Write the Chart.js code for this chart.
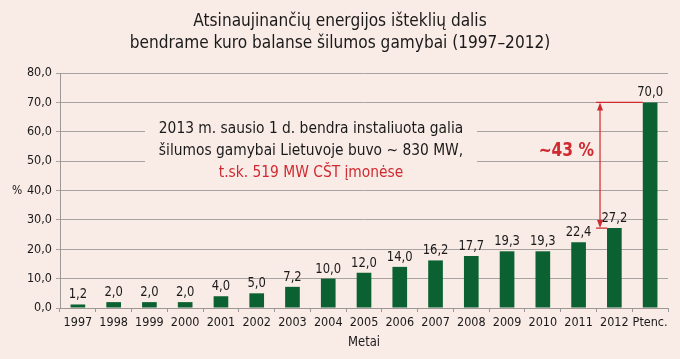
<!DOCTYPE html>
<html>
<head>
<meta charset="utf-8">
<script src="https://cdn.jsdelivr.net/npm/chart.js@4/dist/chart.umd.min.js"></script>
<style>
  html, body { margin: 0; padding: 0; background: #f9ebe6; }
  #wrap { width: 680px; height: 359px; position: relative; }
</style>
</head>
<body>
<div id="wrap"><canvas id="chart" width="680" height="359"></canvas></div>
<script>
// duomenys
const years = ["1997", "1998", "1999", "2000", "2001", "2002", "2003", "2004", "2005",
               "2006", "2007", "2008", "2009", "2010", "2011", "2012", "Ptenc."];
const shares = [1.2, 2.0, 2.0, 2.0, 4.0, 5.0, 7.2, 10.0, 12.0, 14.0, 16.2, 17.7, 19.3, 19.3, 22.4, 27.2, 70.0];
const yTicks = [0, 10, 20, 30, 40, 50, 60, 70, 80];
const titleLines = ["Atsinaujinančių energijos išteklių dalis",
                    "bendrame kuro balanse šilumos gamybai (1997–2012)"];
const noteLines = ["2013 m. sausio 1 d. bendra instaliuota galia",
                   "šilumos gamybai Lietuvoje buvo ~ 830 MW,",
                   "t.sk. 519 MW CŠT įmonėse"];
const gapLabel = "~43 %";

const FONT = '"DejaVu Sans Condensed", "Liberation Sans", Arial, sans-serif';
const BG = '#f9ebe6';
const RED = '#cf2a30';
const fmt = v => v.toFixed(1).replace('.', ',');

// siauresnis tekstas: suspaudžiame per skalę
function narrowText(ctx, text, x, y, sx) {
    ctx.save();
    ctx.translate(x, y);
    ctx.scale(sx, 1);
    ctx.fillText(text, 0, 0);
    ctx.restore();
}

// tekstai, etiketės ir rodyklė
const extras = {
    id: 'extras',
    beforeDatasetsDraw(chart) {
        const ctx = chart.ctx;
        // užrašo fonas uždengia tinklelio linijas
        ctx.save();
        ctx.fillStyle = BG;
        ctx.fillRect(145, 110, 332, 76);
        ctx.restore();
    },
    afterDraw(chart) {
        const ctx = chart.ctx;
        const x = chart.scales.x, y = chart.scales.y;
        const meta = chart.getDatasetMeta(0);
        ctx.save();
        ctx.textAlign = 'center';
        ctx.textBaseline = 'alphabetic';

        // pavadinimas
        ctx.fillStyle = '#1a1a1a';
        ctx.font = '18px ' + FONT;
        narrowText(ctx, titleLines[0], 340, 26, 0.95);
        narrowText(ctx, titleLines[1], 340, 48, 0.95);

        // reikšmės virš stulpelių
        ctx.font = '14px ' + FONT;
        meta.data.forEach((bar, i) => {
            narrowText(ctx, fmt(shares[i]), bar.x, bar.y - 6, 0.92);
        });

        // ašių pavadinimai
        narrowText(ctx, 'Metai', (x.left + x.right) / 2, 346, 0.92);
        ctx.font = '13px ' + FONT;
        ctx.textAlign = 'left';
        ctx.textBaseline = 'middle';
        narrowText(ctx, '%', 12, y.getPixelForValue(40), 0.92);

        // užrašas
        ctx.textAlign = 'center';
        ctx.textBaseline = 'alphabetic';
        ctx.font = '16px ' + FONT;
        ctx.fillStyle = '#1a1a1a';
        narrowText(ctx, noteLines[0], 311, 133, 0.96);
        narrowText(ctx, noteLines[1], 311, 155, 0.96);
        ctx.fillStyle = RED;
        narrowText(ctx, noteLines[2], 311, 177, 0.96);

        // rodyklė tarp 2012 ir perspektyvos
        const b12 = meta.data[15], bP = meta.data[16];
        const yTop = y.getPixelForValue(shares[16]);
        const yBot = y.getPixelForValue(shares[15]);
        const ax = b12.x - b12.width / 2 - 7;
        ctx.strokeStyle = RED;
        ctx.fillStyle = RED;
        ctx.lineWidth = 1.2;
        ctx.beginPath();
        ctx.moveTo(ax - 4, yTop); ctx.lineTo(bP.x - bP.width / 2, yTop);
        ctx.moveTo(ax - 4, yBot); ctx.lineTo(b12.x - b12.width / 2, yBot);
        ctx.moveTo(ax, yTop + 4); ctx.lineTo(ax, yBot - 4);
        ctx.stroke();
        ctx.beginPath();
        ctx.moveTo(ax, yTop); ctx.lineTo(ax - 3, yTop + 8); ctx.lineTo(ax + 3, yTop + 8); ctx.closePath();
        ctx.moveTo(ax, yBot); ctx.lineTo(ax - 3, yBot - 8); ctx.lineTo(ax + 3, yBot - 8); ctx.closePath();
        ctx.fill();

        ctx.font = 'bold 20px ' + FONT;
        ctx.textAlign = 'right';
        narrowText(ctx, gapLabel, ax - 6, 156, 0.86);
        ctx.restore();
    }
};

const ctx = document.getElementById('chart').getContext('2d');
const myChart = new Chart(ctx, {
    type: 'bar',
    data: {
        labels: years,
        datasets: [{
            data: shares,
            backgroundColor: '#0b6131',
            categoryPercentage: 1,
            barPercentage: 0.41
        }]
    },
    options: {
        responsive: false,
        animation: false,
        events: [],
        layout: { padding: { top: 73, right: 12, left: 0, bottom: 0 } },
        plugins: { legend: { display: false }, tooltip: { enabled: false } },
        scales: {
            x: {
                grid: { offset: true, drawOnChartArea: false, color: '#9c9694', tickLength: 4 },
                border: { color: '#9c9694' },
                ticks: { color: '#1a1a1a', font: { family: FONT, size: 12.5 }, padding: 3, maxRotation: 0, autoSkip: false },
                afterFit(scale) { scale.height = 51; }
            },
            y: {
                min: 0, max: 80,
                afterBuildTicks(scale) { scale.ticks = yTicks.map(v => ({ value: v })); },
                grid: { color: '#a8a2a0', tickLength: 4 },
                border: { color: '#9c9694' },
                ticks: { color: '#1a1a1a', font: { family: FONT, size: 12.5 }, padding: 4, callback: v => fmt(v) },
                afterFit(scale) { scale.width = 60; }
            }
        }
    },
    plugins: [extras]
});
</script>
</body>
</html>
